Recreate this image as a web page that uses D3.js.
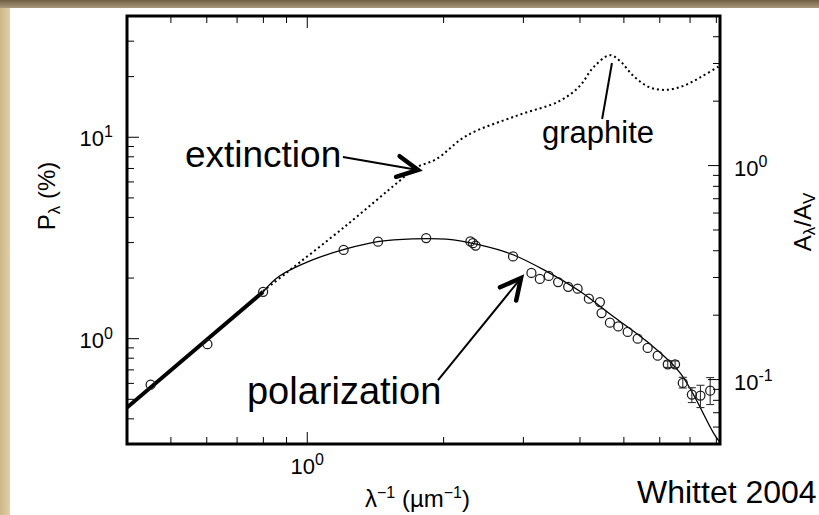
<!DOCTYPE html>
<html>
<head>
<meta charset="utf-8">
<script src="https://cdn.jsdelivr.net/npm/d3@7"></script>
<style>
  html, body { margin: 0; padding: 0; background: #ffffff; }
  svg { display: block; }
  text { font-family: "Liberation Sans", Arial, Helvetica, sans-serif; fill: #000; }
</style>
</head>
<body>
<svg id="chart" width="819" height="515"></svg>
<script>
// ---- Measured interstellar polarization, wavenumber (µm^-1) and P (%)
const polX = [0.451, 0.602, 0.799, 1.203, 1.433, 1.830, 2.291, 2.321, 2.353, 2.846,
              3.125, 3.262, 3.413, 3.579, 3.767, 3.952, 4.185, 4.426, 4.464, 4.657,
              4.859, 5.097, 5.362, 5.642, 5.937, 6.249, 6.486, 6.745, 7.063, 7.379, 7.753];
const polP = [0.591, 0.939, 1.71, 2.76, 3.03, 3.16, 3.04, 2.98, 2.90, 2.56,
              2.12, 1.98, 2.05, 1.91, 1.81, 1.77, 1.58, 1.52, 1.34, 1.20,
              1.15, 1.08, 1.00, 0.899, 0.823, 0.746, 0.746, 0.603, 0.528, 0.522, 0.552];
// Error bars in the far UV (null = smaller than the symbol)
const polLo = [null, null, null, null, null, null, null, null, null, null,
               null, null, null, null, null, null, null, null, null, null,
               null, null, null, null, null, 0.72, 0.72, 0.569, 0.482, 0.455, 0.471];
const polHi = [null, null, null, null, null, null, null, null, null, null,
               null, null, null, null, null, null, null, null, null, null,
               null, null, null, null, null, 0.775, 0.775, 0.643, 0.571, 0.587, 0.641];

// ---- Serkowski fit through the optical/UV points
const fitX = [0.799, 0.867, 1.027, 1.218, 1.443, 1.710, 2.027, 2.402, 2.846, 3.374,
              3.998, 4.737, 5.615, 6.653, 7.882, 8.15];
const fitP = [1.71, 2.04, 2.46, 2.79, 3.04, 3.13, 3.12, 2.92, 2.61, 2.16,
              1.72, 1.29, 0.970, 0.676, 0.341, 0.305];

// ---- Infrared power law
const irX = [0.40, 0.799];
const irP = [0.455, 1.71];

// ---- Mean extinction curve A_lambda / A_V (right-hand axis)
const extX = [0.799, 0.897, 1.218, 1.598, 1.740, 1.926, 2.244, 2.895, 3.610, 3.998,
              4.278, 4.657, 4.900, 5.245, 5.709, 6.216, 6.766, 7.367, 8.088, 8.15];
const extA = [0.259, 0.314, 0.524, 0.848, 0.980, 1.071, 1.377, 1.708, 2.006, 2.357,
              2.873, 3.281, 3.087, 2.627, 2.318, 2.259, 2.357, 2.581, 2.904, 2.942];

// ---- Tick labels (decades only)
const xLabelTicks = [1];
const leftLabelTicks = [1, 10];
const rightLabelTicks = [0.1, 1];

const svg = d3.select("#chart");
const W = 819, H = 515;
const plot = { left: 127, right: 720, top: 16, bottom: 444 };

// parchment border along the top and left
const defs = svg.append("defs");
const gTop = defs.append("linearGradient").attr("id", "topBand").attr("x1", 0).attr("y1", 0).attr("x2", 0).attr("y2", 1);
gTop.append("stop").attr("offset", "0%").attr("stop-color", "#6f5f45");
gTop.append("stop").attr("offset", "100%").attr("stop-color", "#a8977a");
const gLeft = defs.append("linearGradient").attr("id", "leftBand").attr("x1", 0).attr("y1", 0).attr("x2", 1).attr("y2", 0);
gLeft.append("stop").attr("offset", "0%").attr("stop-color", "#cdb689");
gLeft.append("stop").attr("offset", "100%").attr("stop-color", "#e2d0a8");
svg.append("rect").attr("x", 0).attr("y", 0).attr("width", W).attr("height", H).attr("fill", "#ffffff");
svg.append("rect").attr("x", 0).attr("y", 0).attr("width", 10).attr("height", H).attr("fill", "url(#leftBand)");
svg.append("rect").attr("x", 0).attr("y", 0).attr("width", W).attr("height", 8).attr("fill", "url(#topBand)");

// scales
const x = d3.scaleLog().domain([0.4, 8.15]).range([plot.left, plot.right]);
const yL = d3.scaleLog().domain([0.3, 40]).range([plot.bottom, plot.top]);
const yR = d3.scaleLog().domain([0.05, 5]).range([plot.bottom, plot.top]);

const clip = defs.append("clipPath").attr("id", "plotClip");
clip.append("rect").attr("x", plot.left).attr("y", plot.top)
    .attr("width", plot.right - plot.left).attr("height", plot.bottom - plot.top);

const g = svg.append("g").attr("clip-path", "url(#plotClip)");

// extinction curve (dotted)
const extLine = d3.line().x((d, i) => x(extX[i])).y((d, i) => yR(extA[i])).curve(d3.curveCatmullRom.alpha(0.5));
g.append("path").attr("d", extLine(extX)).attr("fill", "none").attr("stroke", "#000")
  .attr("stroke-width", 2).attr("stroke-dasharray", "2 3");

// Serkowski fit
const fitLine = d3.line().x((d, i) => x(fitX[i])).y((d, i) => yL(fitP[i])).curve(d3.curveCatmullRom.alpha(0.5));
g.append("path").attr("d", fitLine(fitX)).attr("fill", "none").attr("stroke", "#000").attr("stroke-width", 1.3);

// IR power law
const irLine = d3.line().x((d, i) => x(irX[i])).y((d, i) => yL(irP[i]));
g.append("path").attr("d", irLine(irX)).attr("fill", "none").attr("stroke", "#000").attr("stroke-width", 4);

// error bars
polX.forEach((v, i) => {
  if (polLo[i] == null) return;
  const cx = x(v);
  g.append("line").attr("x1", cx).attr("x2", cx).attr("y1", yL(polLo[i])).attr("y2", yL(polHi[i]))
    .attr("stroke", "#333").attr("stroke-width", 1.1);
  [polLo[i], polHi[i]].forEach(e => {
    g.append("line").attr("x1", cx - 4).attr("x2", cx + 4).attr("y1", yL(e)).attr("y2", yL(e))
      .attr("stroke", "#333").attr("stroke-width", 1.1);
  });
});

// data points
g.selectAll("circle.pt").data(polX).join("circle").attr("class", "pt")
  .attr("cx", d => x(d)).attr("cy", (d, i) => yL(polP[i])).attr("r", 4.5)
  .attr("fill", "none").attr("stroke", "#1a1a1a").attr("stroke-width", 1.25);

// frame and ticks
const ticks = svg.append("g").attr("stroke", "#000").attr("stroke-width", 1);
const isDecade = v => Math.abs(Math.log10(v) - Math.round(Math.log10(v))) < 1e-6;
x.ticks().forEach(v => {
  const px = x(v), len = isDecade(v) ? 12 : 7;
  ticks.append("line").attr("x1", px).attr("x2", px).attr("y1", plot.bottom).attr("y2", plot.bottom - len);
  ticks.append("line").attr("x1", px).attr("x2", px).attr("y1", plot.top).attr("y2", plot.top + len);
});
yL.ticks().forEach(v => {
  const py = yL(v), len = isDecade(v) ? 12 : 7;
  ticks.append("line").attr("x1", plot.left).attr("x2", plot.left + len).attr("y1", py).attr("y2", py);
});
yR.ticks().forEach(v => {
  const py = yR(v), len = isDecade(v) ? 12 : 7;
  ticks.append("line").attr("x1", plot.right).attr("x2", plot.right - len).attr("y1", py).attr("y2", py);
});
svg.append("rect").attr("x", plot.left).attr("y", plot.top)
  .attr("width", plot.right - plot.left).attr("height", plot.bottom - plot.top)
  .attr("fill", "none").attr("stroke", "#000").attr("stroke-width", 3);

// power-of-ten labels
function powLabel(sel, v, anchor) {
  const t = sel.attr("text-anchor", anchor);
  t.append("tspan").attr("font-size", 22).text("10");
  t.append("tspan").attr("font-size", 16).attr("dy", -9).text(String(Math.round(Math.log10(v))));
  return t;
}
xLabelTicks.forEach(v => powLabel(svg.append("text").attr("x", x(v)).attr("y", 474), v, "middle"));
leftLabelTicks.forEach(v => powLabel(svg.append("text").attr("x", 113).attr("y", yL(v) + 9), v, "end"));
rightLabelTicks.forEach(v => powLabel(svg.append("text").attr("x", 734).attr("y", yR(v) + 10), v, "start"));

// axis titles
const yt = svg.append("text").attr("transform", "translate(55,196) rotate(-90)").attr("text-anchor", "middle").attr("font-size", 24);
yt.append("tspan").text("P");
yt.append("tspan").attr("font-size", 17).attr("dy", 5).text("λ");
yt.append("tspan").attr("dy", -5).text(" (%)");

const rt = svg.append("text").attr("transform", "translate(811,222) rotate(-90)").attr("text-anchor", "middle").attr("font-size", 24);
rt.append("tspan").text("A");
rt.append("tspan").attr("font-size", 17).attr("dy", 4).text("λ");
rt.append("tspan").attr("dy", -4).text("/A");
rt.append("tspan").attr("font-size", 17).attr("dy", 4).text("V");

const xt = svg.append("text").attr("x", 365).attr("y", 507).attr("font-size", 24);
xt.append("tspan").text("λ");
xt.append("tspan").attr("font-size", 16).attr("dy", -9).text("−1");
xt.append("tspan").attr("dy", 9).text(" (µm");
xt.append("tspan").attr("font-size", 16).attr("dy", -9).text("−1");
xt.append("tspan").attr("dy", 9).text(")");

svg.append("text").attr("x", 637).attr("y", 503).attr("font-size", 32).text("Whittet 2004");

// annotations, anchored in data coordinates (x in µm^-1, y in P %)
const ann = svg.append("g");
function chevron(x0, y0, x1, y1, len, ang) {
  const a = Math.atan2(y0 - y1, x0 - x1);
  const p = s => [x1 + len * Math.cos(a + s * ang), y1 + len * Math.sin(a + s * ang)];
  const [ax, ay] = p(1), [bx, by] = p(-1);
  return `M${ax},${ay}L${x1},${y1}L${bx},${by}`;
}
function arrow(from, to) {
  const x0 = x(from[0]), y0 = yL(from[1]), x1 = x(to[0]), y1 = yL(to[1]);
  ann.append("line").attr("x1", x0).attr("y1", y0).attr("x2", x1).attr("y2", y1)
    .attr("stroke", "#000").attr("stroke-width", 2);
  ann.append("path").attr("d", chevron(x0, y0, x1, y1, 23, 27 * Math.PI / 180))
    .attr("fill", "none").attr("stroke", "#000").attr("stroke-width", 4.5)
    .attr("stroke-linejoin", "miter").attr("stroke-linecap", "round");
}
ann.append("text").attr("x", x(0.537)).attr("y", yL(7.12)).attr("font-size", 37).text("extinction");
arrow([1.199, 7.98], [1.756, 6.88]);
ann.append("text").attr("x", x(0.736)).attr("y", yL(0.474)).attr("font-size", 38).text("polarization");
arrow([1.944, 0.6234], [2.964, 2.001]);
ann.append("text").attr("x", x(3.298)).attr("y", yL(9.37)).attr("font-size", 31).text("graphite");
ann.append("line").attr("x1", x(4.706)).attr("y1", yL(23.37)).attr("x2", x(4.477)).attr("y2", yL(12.32))
  .attr("stroke", "#000").attr("stroke-width", 2);
</script>
</body>
</html>
